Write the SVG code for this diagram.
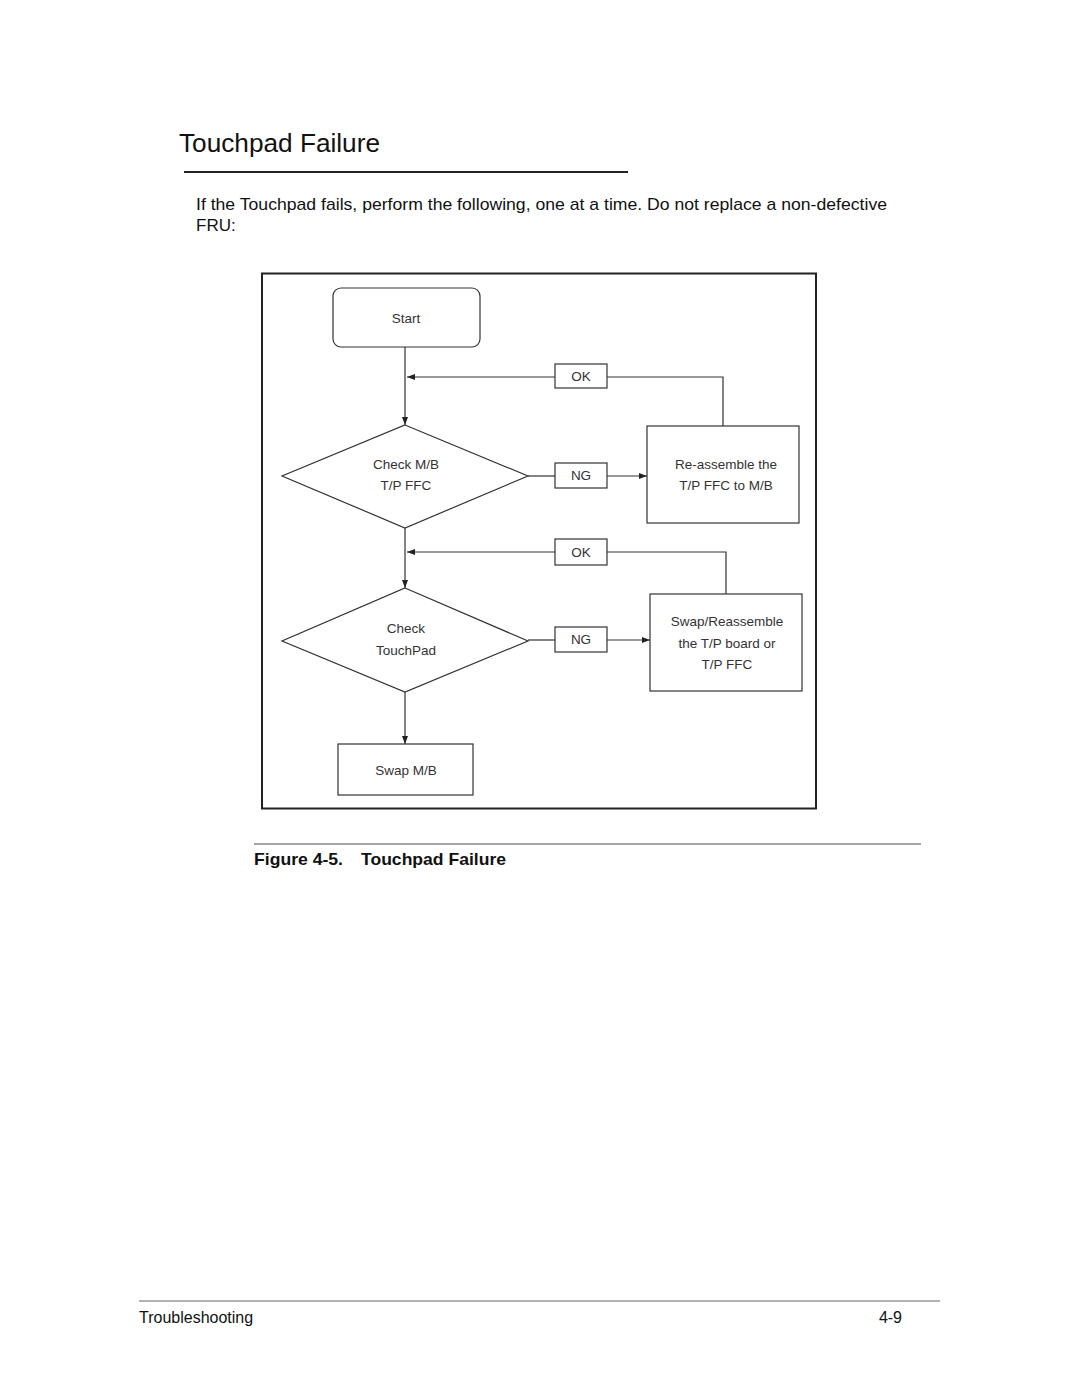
<svg xmlns="http://www.w3.org/2000/svg" width="1080" height="1397" viewBox="0 0 1080 1397">
<defs>
<marker id="ah" markerWidth="8" markerHeight="6" refX="8" refY="3" orient="auto" markerUnits="userSpaceOnUse">
<path d="M0,0 L8,3 L0,6 Z" fill="#222"/>
</marker>
<style>
.page{font-family:"Liberation Sans",Arial,sans-serif;fill:#111}
.dt{font-family:"Liberation Sans",Arial,sans-serif;font-size:13.5px;fill:#333;text-anchor:middle}
.shape{fill:#fff;stroke:#333;stroke-width:1.2}
.conn{fill:none;stroke:#333;stroke-width:1.2}
</style>
</defs>
<rect width="1080" height="1397" fill="#fff"/>
<text class="page" x="179" y="152" font-size="26" textLength="201" lengthAdjust="spacingAndGlyphs">Touchpad Failure</text>
<line x1="184" y1="172" x2="628" y2="172" stroke="#222" stroke-width="2"/>
<text class="page" x="196" y="210" font-size="17" textLength="691" lengthAdjust="spacingAndGlyphs">If the Touchpad fails, perform the following, one at a time. Do not replace a non-defective</text>
<text class="page" x="196" y="231" font-size="17">FRU:</text>

<rect x="262" y="273.5" width="554" height="535" fill="#fff" stroke="#222" stroke-width="2"/>

<g id="connectors">
<line class="conn" x1="405" y1="347" x2="405" y2="425" marker-end="url(#ah)"/>
<polyline class="conn" points="723,426 723,377 607,377"/>
<line class="conn" x1="555" y1="377" x2="407" y2="377" marker-end="url(#ah)"/>
<line class="conn" x1="528" y1="476" x2="555" y2="476"/>
<line class="conn" x1="607" y1="476" x2="647" y2="476" marker-end="url(#ah)"/>
<line class="conn" x1="405" y1="528" x2="405" y2="588" marker-end="url(#ah)"/>
<polyline class="conn" points="726,594 726,552 607,552"/>
<line class="conn" x1="555" y1="552" x2="407" y2="552" marker-end="url(#ah)"/>
<line class="conn" x1="528" y1="640" x2="555" y2="640"/>
<line class="conn" x1="607" y1="640" x2="650" y2="640" marker-end="url(#ah)"/>
<line class="conn" x1="405" y1="692" x2="405" y2="744" marker-end="url(#ah)"/>
</g>

<g id="start">
<rect class="shape" x="333" y="288" width="147" height="59" rx="8"/>
<text class="dt" x="406" y="323">Start</text>
</g>
<g id="ok1">
<rect class="shape" x="555" y="364" width="52" height="24"/>
<text class="dt" x="581" y="381">OK</text>
</g>
<g id="check-mb">
<polygon class="shape" points="405,425 528,476 405,528 282,476"/>
<text class="dt" x="406" y="469">Check M/B</text>
<text class="dt" x="406" y="490">T/P FFC</text>
</g>
<g id="ng1">
<rect class="shape" x="555" y="463" width="52" height="25"/>
<text class="dt" x="581" y="480">NG</text>
</g>
<g id="reassemble">
<rect class="shape" x="647" y="426" width="152" height="97"/>
<text class="dt" x="726" y="469">Re-assemble the</text>
<text class="dt" x="726" y="490">T/P FFC to M/B</text>
</g>
<g id="ok2">
<rect class="shape" x="555" y="539" width="52" height="26"/>
<text class="dt" x="581" y="557">OK</text>
</g>
<g id="check-tp">
<polygon class="shape" points="405,588 528,641 405,692 282,641"/>
<text class="dt" x="406" y="633">Check</text>
<text class="dt" x="406" y="655">TouchPad</text>
</g>
<g id="ng2">
<rect class="shape" x="555" y="627" width="52" height="25"/>
<text class="dt" x="581" y="644">NG</text>
</g>
<g id="swap-reassemble">
<rect class="shape" x="650" y="594" width="152" height="97"/>
<text class="dt" x="727" y="626">Swap/Reassemble</text>
<text class="dt" x="727" y="648">the T/P board or</text>
<text class="dt" x="727" y="669">T/P FFC</text>
</g>
<g id="swap-mb">
<rect class="shape" x="338" y="744" width="135" height="51"/>
<text class="dt" x="406" y="775">Swap M/B</text>
</g>

<line x1="254" y1="844" x2="921" y2="844" stroke="#888" stroke-width="1.5"/>
<text class="page" x="254" y="865" font-size="17" font-weight="bold" textLength="89" lengthAdjust="spacingAndGlyphs">Figure 4-5.</text>
<text class="page" x="361" y="865" font-size="17" font-weight="bold" textLength="145" lengthAdjust="spacingAndGlyphs">Touchpad Failure</text>

<line x1="139" y1="1301" x2="940" y2="1301" stroke="#666" stroke-width="1"/>
<text class="page" x="139" y="1323" font-size="16">Troubleshooting</text>
<text class="page" x="902" y="1323" font-size="16" text-anchor="end">4-9</text>
</svg>
